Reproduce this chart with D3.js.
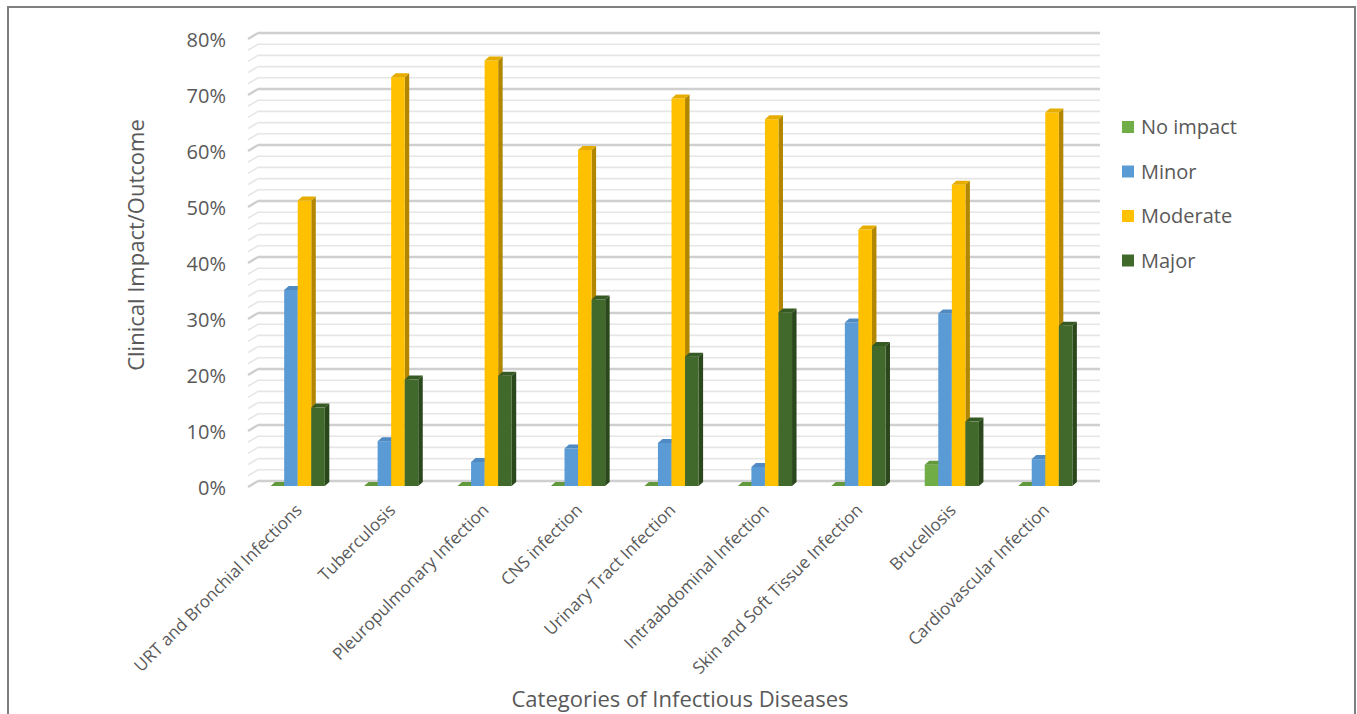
<!DOCTYPE html>
<meta charset="utf-8">
<head>
<script src="https://d3js.org/d3.v7.min.js"></script>
<style>
  body { margin: 0; background: #fff; }
  text { font-family: "Open Sans", sans-serif; fill: #595959; }
</style>
</head>
<body>
<svg id="chart" width="1357" height="714"></svg>
<script>
// data (fractions)
var categories = ["URT and Bronchial Infections", "Tuberculosis", "Pleuropulmonary Infection",
  "CNS infection", "Urinary Tract Infection", "Intraabdominal Infection",
  "Skin and Soft Tissue Infection", "Brucellosis", "Cardiovascular Infection"];
var series = ["No impact", "Minor", "Moderate", "Major"];
var noImpact = [0, 0, 0, 0, 0, 0, 0, 0.038, 0];
var minor    = [0.35, 0.08, 0.043, 0.067, 0.077, 0.034, 0.292, 0.308, 0.048];
var moderate = [0.51, 0.73, 0.76, 0.60, 0.692, 0.655, 0.458, 0.538, 0.667];
var major    = [0.14, 0.19, 0.197, 0.333, 0.231, 0.31, 0.25, 0.115, 0.286];
var yTicks = [0, 0.1, 0.2, 0.3, 0.4, 0.5, 0.6, 0.7, 0.8];

var values = [noImpact, minor, moderate, major];
var front = ["#70ad47", "#5b9bd5", "#ffc000", "#41692b"];
var side  = ["#4e7a31", "#41719c", "#b38600", "#2b471c"];
var top_  = ["#62993d", "#4f8ac2", "#e6ad00", "#365a23"];

var svg = d3.select("#chart");

// frame
svg.append("rect")
  .attr("x", 8).attr("y", 7).attr("width", 1347).attr("height", 740)
  .attr("fill", "none").attr("stroke", "#7f7f7f").attr("stroke-width", 2);

// scales
var x = d3.scaleBand().domain(categories).range([251, 1092]).paddingInner(0.42).paddingOuter(0.21);
var xs = d3.scaleBand().domain(series).range([0, x.bandwidth()]);
var y = d3.scaleLinear().domain([0, 0.8]).range([486, 38]);
var yBack = d3.scaleLinear().domain([0, 0.8]).range([481, 33]);
var depthX = 10, backLeft = 258, backRight = 1100;

// gridlines on back wall and side wall
var grid = d3.range(0, 41).map(function(i) { return i * 0.02; });
var g = svg.append("g");
grid.forEach(function(v, i) {
  var majorLine = i % 5 === 0;
  var col = majorLine ? "#cfcfcf" : "#e6e6e6";
  var sw = majorLine ? 2.5 : 1.6;
  g.append("line")
    .attr("x1", backLeft).attr("x2", backRight)
    .attr("y1", yBack(v)).attr("y2", yBack(v))
    .attr("stroke", col).attr("stroke-width", sw);
  g.append("line")
    .attr("x1", backLeft - depthX).attr("x2", backLeft)
    .attr("y1", yBack(v) + 6).attr("y2", yBack(v))
    .attr("stroke", col).attr("stroke-width", sw);
});

// y tick labels
svg.append("g").selectAll("text").data(yTicks).enter().append("text")
  .attr("x", 226).attr("y", function(d) { return y(d) + 2; })
  .attr("dy", "0.35em").attr("text-anchor", "end")
  .style("font-size", "20px")
  .text(d3.format(".0%"));

// 3D bars
var dx = 4.5, dy = 4;
var bars = svg.append("g");
categories.forEach(function(c, ci) {
  series.forEach(function(s, si) {
    var v = values[si][ci];
    var x0 = x(c) + xs(s), w = xs.bandwidth();
    var yt = y(v), yb = y(0);
    // side face
    bars.append("path")
      .attr("d", "M" + (x0 + w) + "," + yt + "L" + (x0 + w + dx) + "," + (yt - dy) +
        "L" + (x0 + w + dx) + "," + (yb - dy) + "L" + (x0 + w) + "," + yb + "Z")
      .attr("fill", side[si]);
    // front face
    bars.append("rect")
      .attr("x", x0).attr("y", yt).attr("width", w).attr("height", yb - yt)
      .attr("fill", front[si]);
    // top face
    bars.append("path")
      .attr("d", "M" + x0 + "," + yt + "L" + (x0 + w) + "," + yt + "L" + (x0 + w + dx) + "," + (yt - dy) +
        "L" + (x0 + dx) + "," + (yt - dy) + "Z")
      .attr("fill", top_[si]);
  });
});

// category labels
svg.append("g").selectAll("text").data(categories).enter().append("text")
  .attr("transform", function(d) {
    return "translate(" + (x(d) + x.bandwidth() / 2 + 1) + ",507) rotate(-45)";
  })
  .attr("text-anchor", "end")
  .attr("dy", "0.35em")
  .style("font-size", "17px")
  .text(function(d) { return d; });

// axis titles
svg.append("text")
  .attr("transform", "translate(144,245) rotate(-90)")
  .attr("text-anchor", "middle")
  .style("font-size", "22px")
  .text("Clinical Impact/Outcome");

svg.append("text")
  .attr("x", 680).attr("y", 707)
  .attr("text-anchor", "middle")
  .style("font-size", "22px")
  .text("Categories of Infectious Diseases");

// legend
var legend = svg.append("g").selectAll("g").data(series).enter().append("g")
  .attr("transform", function(d, i) { return "translate(1122," + (127 + i * 44.5) + ")"; });
legend.append("rect")
  .attr("x", 0).attr("y", -6).attr("width", 12).attr("height", 12)
  .attr("fill", function(d, i) { return front[i]; });
legend.append("text")
  .attr("x", 19).attr("dy", "0.35em")
  .style("font-size", "20px")
  .text(function(d) { return d; });
</script>
</body>
